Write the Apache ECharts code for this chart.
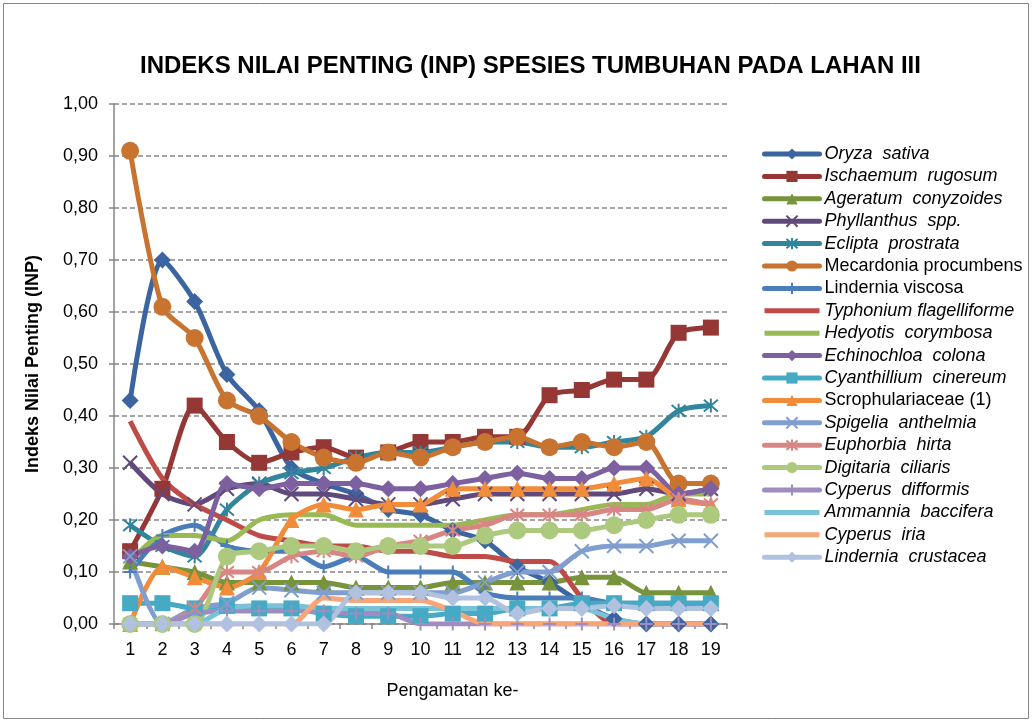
<!DOCTYPE html>
<html>
<head>
<meta charset="utf-8">
<script src="https://cdn.jsdelivr.net/npm/echarts@6/dist/echarts.min.js"></script>
<style>
  html, body { margin: 0; padding: 0; background: #fff; }
  #chart { width: 1032px; height: 722px; }
</style>
</head>
<body>
<div id="chart"></div>
<script>
// pengamatan ke- 1..19
var pengamatan = ['1','2','3','4','5','6','7','8','9','10','11','12','13','14','15','16','17','18','19'];

// nilai INP tiap spesies
var oryzaSativa       = [0.43,0.70,0.62,0.48,0.41,0.30,0.27,0.25,0.22,0.21,0.18,0.16,0.11,0.08,0.04,0.01,0.00,0.00,0.00];
var ischaemumRugosum  = [0.14,0.26,0.42,0.35,0.31,0.33,0.34,0.32,0.33,0.35,0.35,0.36,0.36,0.44,0.45,0.47,0.47,0.56,0.57];
var ageratumConyz     = [0.12,0.11,0.10,0.08,0.08,0.08,0.08,0.07,0.07,0.07,0.08,0.08,0.08,0.08,0.09,0.09,0.06,0.06,0.06];
var phyllanthus       = [0.31,0.25,0.23,0.26,0.27,0.25,0.25,0.24,0.23,0.23,0.24,0.25,0.25,0.25,0.25,0.25,0.26,0.25,0.26];
var ecliptaProstrata  = [0.19,0.15,0.13,0.22,0.27,0.29,0.30,0.32,0.33,0.33,0.34,0.35,0.35,0.34,0.34,0.35,0.36,0.41,0.42];
var mecardonia        = [0.91,0.61,0.55,0.43,0.40,0.35,0.32,0.31,0.33,0.32,0.34,0.35,0.36,0.34,0.35,0.34,0.35,0.27,0.27];
var linderniaViscosa  = [0.10,0.17,0.19,0.15,0.14,0.14,0.11,0.13,0.10,0.10,0.10,0.06,0.05,0.05,0.05,0.04,0.04,0.04,0.04];
var typhonium         = [0.39,0.28,0.23,0.20,0.17,0.16,0.15,0.15,0.14,0.14,0.13,0.13,0.12,0.12,0.05,0.00,0.00,0.00,0.00];
var hedyotis          = [0.12,0.17,0.17,0.16,0.20,0.21,0.21,0.19,0.19,0.19,0.19,0.20,0.21,0.21,0.22,0.23,0.23,0.25,0.25];
var echinochloa       = [0.13,0.15,0.14,0.27,0.26,0.27,0.27,0.27,0.26,0.26,0.27,0.28,0.29,0.28,0.28,0.30,0.30,0.25,0.26];
var cyanthillium      = [0.04,0.04,0.03,0.035,0.03,0.03,0.02,0.015,0.015,0.015,0.02,0.02,0.03,0.03,0.04,0.04,0.04,0.04,0.04];
var scrophulariaceae  = [0.00,0.11,0.09,0.07,0.10,0.20,0.23,0.22,0.23,0.23,0.26,0.26,0.26,0.26,0.26,0.27,0.28,0.24,0.23];
var spigelia          = [0.13,0.00,0.03,0.04,0.07,0.065,0.06,0.06,0.06,0.06,0.06,0.08,0.10,0.10,0.14,0.15,0.15,0.16,0.16];
var euphorbia         = [0.00,0.00,0.03,0.10,0.10,0.13,0.14,0.13,0.15,0.16,0.18,0.19,0.21,0.21,0.21,0.22,0.22,0.24,0.23];
var digitaria         = [0.00,0.00,0.00,0.13,0.14,0.15,0.15,0.14,0.15,0.15,0.15,0.17,0.18,0.18,0.18,0.19,0.20,0.21,0.21];
var cyperusDifformis  = [0.00,0.00,0.02,0.025,0.025,0.025,0.025,0.02,0.02,0.00,0.00,0.00,0.00,0.00,0.00,0.00,0.00,0.00,0.00];
var ammannia          = [0.00,0.00,0.00,0.03,0.035,0.035,0.03,0.03,0.03,0.03,0.03,0.03,0.03,0.03,0.03,0.01,0.00,0.00,0.00];
var cyperusIria       = [0.00,0.00,0.00,0.00,0.00,0.00,0.05,0.045,0.045,0.045,0.025,0.00,0.00,0.00,0.00,0.00,0.00,0.00,0.00];
var linderniaCrust    = [0.00,0.00,0.00,0.00,0.00,0.00,0.00,0.06,0.06,0.06,0.05,0.05,0.02,0.03,0.03,0.035,0.03,0.03,0.03];

// label sumbu y
var yTicks = ['0,00','0,10','0,20','0,30','0,40','0,50','0,60','0,70','0,80','0,90','1,00'];

// marker ala Excel
var SYM_X = 'path://M0,0L10,10M10,0L0,10';
var SYM_STAR = 'path://M0,0L10,10M10,0L0,10M5,-1L5,11';
var SYM_PLUS = 'path://M5,0L5,10M0,5L10,5';
// ikon legenda untuk garis tanpa marker
var IKON_GARIS = 'path://M0,0L55,0L55,5L0,5Z';

// [nama, data, warna, marker, ukuran, miring?]
var daftar = [
  ['Oryza  sativa', oryzaSativa, '#3b64a0', 'diamond', 17, true],
  ['Ischaemum  rugosum', ischaemumRugosum, '#953735', 'rect', 16, true],
  ['Ageratum  conyzoides', ageratumConyz, '#77933c', 'triangle', 16, true],
  ['Phyllanthus  spp.', phyllanthus, '#604a7b', SYM_X, 14, true],
  ['Eclipta  prostrata', ecliptaProstrata, '#31859c', SYM_STAR, 14, true],
  ['Mecardonia procumbens', mecardonia, '#c8732f', 'circle', 18, false],
  ['Lindernia viscosa', linderniaViscosa, '#4a7ebb', SYM_PLUS, 13, false],
  ['Typhonium flagelliforme', typhonium, '#be4b48', 'none', 0, true],
  ['Hedyotis  corymbosa', hedyotis, '#98b954', 'none', 0, true],
  ['Echinochloa  colona', echinochloa, '#7d60a0', 'diamond', 17, true],
  ['Cyanthillium  cinereum', cyanthillium, '#46aac5', 'rect', 16, true],
  ['Scrophulariaceae (1)', scrophulariaceae, '#f18c3a', 'triangle', 16, false],
  ['Spigelia  anthelmia', spigelia, '#809ecf', SYM_X, 14, true],
  ['Euphorbia  hirta', euphorbia, '#d88684', SYM_STAR, 14, true],
  ['Digitaria  ciliaris', digitaria, '#adc97e', 'circle', 18, true],
  ['Cyperus  difformis', cyperusDifformis, '#a08cc0', SYM_PLUS, 13, true],
  ['Ammannia  baccifera', ammannia, '#79c2d7', 'none', 0, true],
  ['Cyperus  iria', cyperusIria, '#f8a577', 'none', 0, true],
  ['Lindernia  crustacea', linderniaCrust, '#b0c2e0', 'diamond', 17, true]
];

var miring = {};
var legendData = [];
var series = daftar.map(function (d) {
  miring[d[0]] = d[5];
  var garis = d[3].indexOf('path://') === 0;
  legendData.push(d[3] === 'none' ? { name: d[0], icon: IKON_GARIS } : { name: d[0] });
  return {
    name: d[0],
    type: 'line',
    data: d[1],
    smooth: 0.25,
    symbol: d[3],
    symbolSize: d[4],
    showAllSymbol: true,
    lineStyle: { color: d[2], width: 5 },
    itemStyle: garis
      ? { color: d[2], borderColor: d[2], borderWidth: 2 }
      : { color: d[2], borderWidth: 0 }
  };
});

var chart = echarts.init(document.getElementById('chart'));
chart.setOption({
  animation: false,
  textStyle: { fontFamily: 'Arial, "Liberation Sans", sans-serif' },
  title: {
    text: 'INDEKS NILAI PENTING (INP) SPESIES TUMBUHAN PADA LAHAN III',
    left: 135,
    top: 49,
    textStyle: { fontSize: 24, fontWeight: 'bold', color: '#000' }
  },
  graphic: [{
    type: 'rect',
    shape: { x: 3.5, y: 3.5, width: 1025, height: 715 },
    style: { fill: 'none', stroke: '#868686', lineWidth: 1 },
    silent: true
  }],
  grid: { left: 114, right: 305, top: 104, bottom: 98 },
  legend: {
    orient: 'vertical',
    left: 762,
    top: 145,
    padding: 0,
    data: legendData,
    itemWidth: 55,
    itemHeight: 14,
    itemGap: 4.4,
    lineStyle: { width: 5, cap: 'round' },
    formatter: function (n) {
      return miring[n] ? '{i|' + n + '}' : '{n|' + n + '}';
    },
    textStyle: {
      fontSize: 18,
      color: '#000',
      rich: {
        i: { fontSize: 18, fontStyle: 'italic', color: '#000' },
        n: { fontSize: 18, color: '#000' }
      }
    }
  },
  xAxis: {
    type: 'category',
    data: pengamatan,
    boundaryGap: true,
    name: 'Pengamatan ke-',
    nameLocation: 'middle',
    nameGap: 58,
    nameTextStyle: { fontSize: 18, color: '#000', padding: [0, 0, 0, 64] },
    axisLine: { lineStyle: { color: '#868686', width: 1.5 } },
    axisTick: { show: true, length: 5, lineStyle: { color: '#868686', width: 1.5 } },
    axisLabel: { fontSize: 18, color: '#000', margin: 17 }
  },
  yAxis: {
    type: 'value',
    min: 0,
    max: 1,
    interval: 0.1,
    name: 'Indeks Nilai Penting (INP)',
    nameLocation: 'middle',
    nameGap: 72,
    nameTextStyle: { fontSize: 18, fontWeight: 'bold', color: '#000' },
    axisLine: { show: true, lineStyle: { color: '#868686', width: 1.5 } },
    axisTick: { show: true, length: 5, lineStyle: { color: '#868686', width: 1.5 } },
    axisLabel: {
      fontSize: 18,
      color: '#000',
      margin: 16,
      formatter: function (v) { return yTicks[Math.round(v * 10)]; }
    },
    splitLine: { lineStyle: { color: '#868686', width: 1.5, type: [5, 3] } }
  },
  series: series
});
</script>
</body>
</html>
